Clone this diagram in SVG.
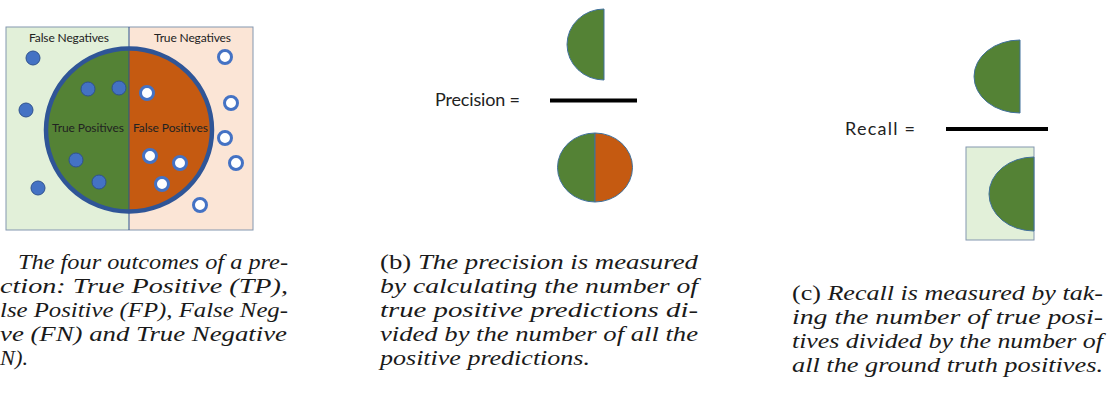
<svg xmlns="http://www.w3.org/2000/svg" width="1117" height="395" viewBox="0 0 1117 395">
<style>
.lbl{font-family:Lato,"Open Sans","Liberation Sans",sans-serif;fill:#222}
.cap{font-family:"Liberation Serif","DejaVu Serif",serif;font-style:italic;font-size:20px;fill:#1a1a1a}
.up{font-style:normal}
.fn{fill:#4472C4;stroke:#2F528F;stroke-width:1}
.tn{fill:#fff;stroke:#4472C4;stroke-width:3}
.grn{fill:#548235;stroke:#41719C;stroke-width:1}
.org{fill:#C55A11;stroke:#41719C;stroke-width:1}
.bar{stroke:#000;stroke-width:4}
</style>
<rect width="1117" height="395" fill="#fff"/>
<g id="panel-a">
  <rect x="6" y="27" width="123" height="203" fill="#E2F0D9"/>
  <rect x="129" y="27" width="124" height="203" fill="#FBE5D6"/>
  <rect x="6" y="27" width="247" height="203" fill="none" stroke="#8497B0" stroke-width="1"/>
  <path d="M129,48.5 A83,81.5 0 0 0 129,211.5 Z" fill="#548235"/>
  <path d="M129,48.5 A83,81.5 0 0 1 129,211.5 Z" fill="#C55A11"/>
  <line x1="129" y1="27" x2="129" y2="230" stroke="#2F528F" stroke-width="1"/>
  <ellipse cx="129" cy="130" rx="83" ry="81.5" fill="none" stroke="#2F5597" stroke-width="4.5"/>
  <text class="lbl" x="29" y="42" font-size="12" textLength="80">False Negatives</text>
  <text class="lbl" x="154" y="42" font-size="12" textLength="77">True Negatives</text>
  <text class="lbl" x="52" y="132" font-size="12" textLength="72">True Positives</text>
  <text class="lbl" x="133" y="132" font-size="12" textLength="75">False Positives</text>
  <circle class="fn" cx="33" cy="58" r="7"/>
  <circle class="fn" cx="26" cy="110" r="7"/>
  <circle class="fn" cx="38" cy="188" r="7"/>
  <circle class="fn" cx="88" cy="89" r="7"/>
  <circle class="fn" cx="119" cy="88" r="7"/>
  <circle class="fn" cx="76" cy="160" r="7"/>
  <circle class="fn" cx="99" cy="182" r="7"/>
  <circle class="tn" cx="225" cy="57" r="6.5"/>
  <circle class="tn" cx="147" cy="93" r="6.5"/>
  <circle class="tn" cx="231" cy="103" r="6.5"/>
  <circle class="tn" cx="225" cy="138" r="6.5"/>
  <circle class="tn" cx="236" cy="163" r="6.5"/>
  <circle class="tn" cx="150" cy="156" r="6.5"/>
  <circle class="tn" cx="180" cy="163" r="6.5"/>
  <circle class="tn" cx="162" cy="184" r="6.5"/>
  <circle class="tn" cx="200" cy="205" r="6.5"/>
</g>
<g id="panel-b">
  <path class="grn" d="M604,9 A37,35.5 0 0 0 604,80 Z"/>
  <text class="lbl" x="435" y="106" font-size="18" textLength="85">Precision =</text>
  <line class="bar" x1="550" y1="100.5" x2="637" y2="100.5"/>
  <path class="grn" d="M595,133 A37.5,34.5 0 0 0 595,202 Z"/>
  <path class="org" d="M595,133 A37.5,34.5 0 0 1 595,202 Z"/>
</g>
<g id="panel-c">
  <path class="grn" d="M1020,40 A46,36.5 0 0 0 1020,113 Z"/>
  <text class="lbl" x="845" y="135" font-size="18" textLength="70">Recall =</text>
  <line class="bar" x1="946" y1="129" x2="1048" y2="129"/>
  <rect x="966" y="147" width="68" height="93" fill="#E2F0D9" stroke="#8497B0" stroke-width="1"/>
  <path class="grn" d="M1034,157 A45,37 0 0 0 1034,231 Z"/>
</g>
<g id="captions">
  <text class="cap" x="18" y="269" textLength="270" lengthAdjust="spacingAndGlyphs">The four outcomes of a pre-</text>
  <text class="cap" x="0" y="293" textLength="288" lengthAdjust="spacingAndGlyphs">ction: True Positive (TP),</text>
  <text class="cap" x="0" y="317" textLength="288" lengthAdjust="spacingAndGlyphs">lse Positive (FP), False Neg-</text>
  <text class="cap" x="0" y="341" textLength="287" lengthAdjust="spacingAndGlyphs">ve (FN) and True Negative</text>
  <text class="cap" x="0" y="365" textLength="28" lengthAdjust="spacingAndGlyphs">N).</text>

  <text class="cap" x="380" y="269" textLength="318" lengthAdjust="spacingAndGlyphs"><tspan class="up">(b)</tspan> The precision is measured</text>
  <text class="cap" x="380" y="293" textLength="318" lengthAdjust="spacingAndGlyphs">by calculating the number of</text>
  <text class="cap" x="380" y="317" textLength="318" lengthAdjust="spacingAndGlyphs">true positive predictions di-</text>
  <text class="cap" x="380" y="341" textLength="318" lengthAdjust="spacingAndGlyphs">vided by the number of all the</text>
  <text class="cap" x="380" y="365" textLength="210" lengthAdjust="spacingAndGlyphs">positive predictions.</text>

  <text class="cap" x="792" y="300" textLength="311" lengthAdjust="spacingAndGlyphs"><tspan class="up">(c)</tspan> Recall is measured by tak-</text>
  <text class="cap" x="792" y="324" textLength="311" lengthAdjust="spacingAndGlyphs">ing the number of true posi-</text>
  <text class="cap" x="792" y="348" textLength="311" lengthAdjust="spacingAndGlyphs">tives divided by the number of</text>
  <text class="cap" x="792" y="372" textLength="311" lengthAdjust="spacingAndGlyphs">all the ground truth positives.</text>
</g>
</svg>
